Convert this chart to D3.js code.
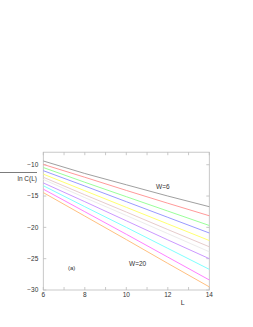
<!DOCTYPE html>
<html><head><meta charset="utf-8">
<script src="https://cdn.jsdelivr.net/npm/d3@7/dist/d3.min.js"></script>
<style>body{margin:0;background:#fff}svg{display:block}</style>
</head><body>
<script>
const Lvals = [6, 8, 10, 12, 14];
const seriesNames = ["W=6","s2","s3","s4","s5","s6","s7","s8","s9","s10","W=20"];
const seriesValues = [
  [-9.4, -11.4, -13.2, -15.0, -16.7],
  [-9.95, -12.0, -14.1, -16.15, -18.15],
  [-10.45, -12.8, -15.1, -17.4, -19.7],
  [-10.95, -13.4, -15.9, -18.4, -20.9],
  [-11.5, -14.15, -16.8, -19.45, -22.1],
  [-12.0, -14.8, -17.55, -20.35, -23.1],
  [-12.35, -15.25, -18.1, -21.0, -23.9],
  [-12.9, -15.9, -18.95, -22.0, -25.0],
  [-13.35, -16.7, -20.0, -23.35, -26.7],
  [-13.9, -17.5, -21.1, -24.75, -28.4],
  [-14.45, -18.2, -21.95, -25.75, -29.5]
];
const colors = ["#a0a0a0","#ff9a9a","#9aff9a","#9a9aff","#ffff70","#e6cccc","#ececec","#cc99ff","#80ffff","#ff80ff","#ffc080"];
const xTicks = [6, 8, 10, 12, 14];
const xMinor = [6,7,8,9,10,11,12,13,14];
const yTicks = [-10, -15, -20, -25, -30];

const W = 253, H = 327;
const pL = 43.3, pR = 209.3, pT = 152.2, pB = 290;
const svg = d3.select("body").append("svg").attr("width", W).attr("height", H);
const x = d3.scaleLinear().domain([6, 14]).range([pL, pR]);
const y = d3.scaleLinear().domain([-30, -8]).range([pB, pT]);
const font = "Liberation Sans, Arial, sans-serif";
const frame = "#bbbbbb";

svg.append("rect").attr("x", pL).attr("y", pT).attr("width", pR-pL).attr("height", pB-pT)
  .attr("fill","none").attr("stroke", frame).attr("stroke-width", 0.8);

// ticks
const tl = 3;
svg.append("g").selectAll("line").data(xMinor).join("line")
  .attr("x1", d=>x(d)).attr("x2", d=>x(d)).attr("y1", pB).attr("y2", pB-tl)
  .attr("stroke", frame).attr("stroke-width", 0.8);
svg.append("g").selectAll("line").data(xMinor).join("line")
  .attr("x1", d=>x(d)).attr("x2", d=>x(d)).attr("y1", pT).attr("y2", pT+tl)
  .attr("stroke", frame).attr("stroke-width", 0.8);
svg.append("g").selectAll("line").data(yTicks).join("line")
  .attr("x1", pL).attr("x2", pL+tl).attr("y1", d=>y(d)).attr("y2", d=>y(d))
  .attr("stroke", frame).attr("stroke-width", 0.8);
svg.append("g").selectAll("line").data(yTicks).join("line")
  .attr("x1", pR).attr("x2", pR-tl).attr("y1", d=>y(d)).attr("y2", d=>y(d))
  .attr("stroke", frame).attr("stroke-width", 0.8);

// tick labels
svg.append("g").selectAll("text").data(xTicks).join("text")
  .attr("x", d=>x(d)).attr("y", pB+7).attr("text-anchor","middle")
  .attr("font-family", font).attr("font-size", 6.5).attr("fill","#333")
  .text(d=>d);
svg.append("g").selectAll("text").data(yTicks).join("text")
  .attr("x", pL-5).attr("y", d=>y(d)+2.3).attr("text-anchor","end")
  .attr("font-family", font).attr("font-size", 6.5).attr("fill","#333")
  .text(d=>"\u2212"+Math.abs(d));

// lines
const line = d3.line().x((d,i)=>x(Lvals[i])).y(d=>y(d));
svg.append("g").selectAll("path").data(seriesValues).join("path")
  .attr("d", d=>line(d)).attr("fill","none")
  .attr("stroke", (d,i)=>colors[i]).attr("stroke-width", 1);

// labels
svg.append("line").attr("x1", 0).attr("x2", 37).attr("y1", 172.5).attr("y2", 172.5)
  .attr("stroke","#444").attr("stroke-width", 0.7);
svg.append("text").attr("x", 17.5).attr("y", 180.5).attr("font-family", font)
  .attr("font-size", 6.5).attr("fill","#333").text("ln C(L)");
svg.append("text").attr("x", 182.7).attr("y", 304.5).attr("text-anchor","middle")
  .attr("font-family", font).attr("font-size", 7).attr("fill","#333").text("L");
svg.append("text").attr("x", 156).attr("y", 188.5).attr("font-family", font)
  .attr("font-size", 6.5).attr("fill","#333").text("W=6");
svg.append("text").attr("x", 129).attr("y", 265.5).attr("font-family", font)
  .attr("font-size", 6.5).attr("fill","#333").text("W=20");
svg.append("text").attr("x", 68).attr("y", 270).attr("font-family", font)
  .attr("font-size", 6).attr("fill","#333").text("(a)");
</script>
</body></html>
